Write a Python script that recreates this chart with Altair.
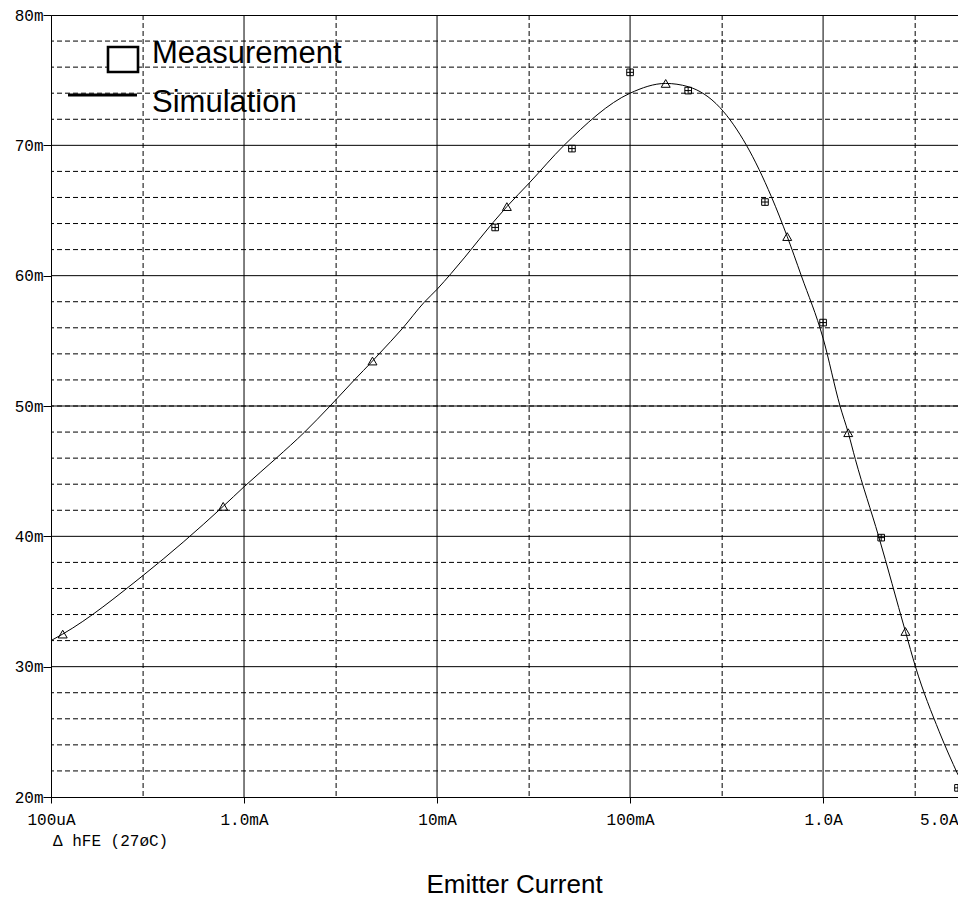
import altair as alt
import pandas as pd

# ---- data ----
# simulation trace (hFE in "m" units vs emitter current in A)
sim_current = [1e-4, 1.15e-4, 3e-4, 7.8e-4, 1e-3, 1.47e-3, 2.06e-3, 2.79e-3, 3.73e-3, 4.63e-3,
               5.01e-3, 6.62e-3, 8.57e-3, 1e-2, 1.18e-2, 2.3e-2, 3e-2, 4.55e-2, 0.1, 0.153,
               0.2, 0.292, 0.401, 0.54, 0.652, 0.771, 1.0, 1.224, 1.35, 1.47,
               1.94, 2.67, 3.01, 4.0, 5.0]
sim_hfe = [32.0, 32.5, 37.0, 42.3, 43.8, 46.0, 48.0, 50.0, 52.0, 53.45,
           54.0, 55.95, 57.95, 58.95, 60.15, 65.3, 67.1, 70.0, 74.0, 74.75,
           74.5, 72.9, 70.0, 66.05, 63.0, 60.0, 55.2, 50.0, 47.95, 45.9,
           40.0, 32.7, 30.0, 25.0, 21.7]

# trace markers (triangles) on the simulation curve
marker_current = [1.15e-4, 7.8e-4, 4.63e-3, 2.3e-2, 0.153, 0.652, 1.35, 2.67]
marker_hfe = [32.5, 42.3, 53.45, 65.3, 74.75, 63.0, 47.95, 32.7]

# measurements (boxed-plus squares)
meas_current = [0.02, 0.05, 0.1, 0.2, 0.5, 1.0, 2.0, 5.0]
meas_hfe = [63.7, 69.75, 75.6, 74.2, 65.65, 56.4, 39.9, 20.7]

# axes / grid
x_tick_values = [1e-4, 1e-3, 1e-2, 0.1, 1, 5]
x_tick_labels = ["100uA", "1.0mA", "10mA", "100mA", "1.0A", "5.0A"]
x_grid_major = [1e-3, 1e-2, 0.1, 1]
x_grid_minor = [3e-4, 3e-3, 3e-2, 0.3, 3]
y_tick_values = [20, 30, 40, 50, 60, 70, 80]
y_grid_major = [30, 40, 50, 60, 70]
y_grid_minor = [22, 24, 26, 28, 32, 34, 36, 38, 42, 44, 46, 48, 50, 52, 54, 56, 58,
                62, 64, 66, 68, 72, 74, 76, 78]

legend_labels = ["Measurement", "Simulation"]
trace_label = "\u0394 hFE (27\u00f8C)"
x_title = "Emitter Current"

# ---- tables ----
sim_df = pd.DataFrame({"I": sim_current, "hfe": sim_hfe})
mark_df = pd.DataFrame({"I": marker_current, "hfe": marker_hfe})
meas_df = pd.DataFrame({"I": meas_current, "hfe": meas_hfe})
vmaj_df = pd.DataFrame({"I": x_grid_major})
vmin_df = pd.DataFrame({"I": x_grid_minor})
hmaj_df = pd.DataFrame({"hfe": y_grid_major})
hmin_df = pd.DataFrame({"hfe": y_grid_minor})
one_df = pd.DataFrame({"k": [0]})

W, H = 907, 782
xs = alt.Scale(type="log", domain=[1e-4, 5], nice=False)
ys = alt.Scale(domain=[20, 80], nice=False, zero=False)

vals_js = "[" + ",".join(repr(v) for v in x_tick_values) + "]"
labs_js = "[" + ",".join("'" + s + "'" for s in x_tick_labels) + "]"

x_axis = alt.Axis(
    values=x_tick_values,
    labelExpr=f"{labs_js}[indexof({vals_js}, datum.value)]",
    labelFont="Liberation Mono", labelFontSize=16, labelColor="black",
    labelPadding=8, tickSize=6, tickColor="black", grid=False,
    domainColor="black", labelOverlap=False, labelFlush=False,
    labelAlign={"condition": {"test": "datum.value == 5", "value": "right"}, "value": "center"},
    title=x_title, titleFont="Liberation Sans", titleFontSize=26,
    titleFontWeight="normal", titleColor="black",
    titleX=463, titleY=95, titleBaseline="alphabetic", titleAlign="center",
)
y_axis = alt.Axis(
    values=y_tick_values, labelExpr="datum.value + 'm'",
    labelFont="Liberation Mono", labelFontSize=16, labelColor="black",
    labelPadding=0, tickSize=8, tickColor="black", grid=False,
    domainColor="black", title=None,
)

X = alt.X("I:Q", scale=xs, axis=x_axis, title=x_title)
Y = alt.Y("hfe:Q", scale=ys, axis=y_axis, title=None)

vmin = alt.Chart(vmin_df).mark_rule(color="black", strokeWidth=1, strokeDash=[5, 3]).encode(x=X)
vmaj = alt.Chart(vmaj_df).mark_rule(color="black", strokeWidth=1).encode(x=X)
hmin = alt.Chart(hmin_df).mark_rule(color="black", strokeWidth=1, strokeDash=[5, 3]).encode(y=Y)
hmaj = alt.Chart(hmaj_df).mark_rule(color="black", strokeWidth=1).encode(y=Y)

line = alt.Chart(sim_df).mark_line(color="black", strokeWidth=1, interpolate="monotone").encode(
    x=X, y=Y)

tri = alt.Chart(mark_df).mark_point(shape="triangle-up", size=80, filled=False,
                                    color="black", strokeWidth=1, opacity=1).encode(x=X, y=Y)

box_plus = "M-1,-1H1V1H-1Z M0,-1V1 M-1,0H1"
meas = alt.Chart(meas_df).mark_point(shape=box_plus, size=44, filled=False,
                                     color="black", strokeWidth=1, opacity=1).encode(x=X, y=Y)

leg_box = alt.Chart(one_df).mark_rect(fill="white", stroke="black", strokeWidth=2.6).encode(
    x=alt.value(57), x2=alt.value(87), y=alt.value(32), y2=alt.value(57))
leg_line = alt.Chart(one_df).mark_rule(color="black", strokeWidth=3).encode(
    x=alt.value(17), x2=alt.value(86), y=alt.value(80))
leg_t1 = alt.Chart(one_df).mark_text(font="Liberation Sans", fontSize=31, align="left",
                                     baseline="alphabetic", color="black").encode(
    x=alt.value(101), y=alt.value(48), text=alt.value(legend_labels[0]))
leg_t2 = alt.Chart(one_df).mark_text(font="Liberation Sans", fontSize=31, align="left",
                                     baseline="alphabetic", color="black").encode(
    x=alt.value(101), y=alt.value(96.5), text=alt.value(legend_labels[1]))
trace_t = alt.Chart(one_df).mark_text(font="Liberation Mono", fontSize=16, align="left",
                                      baseline="alphabetic", color="black").encode(
    x=alt.value(2), y=alt.value(831), text=alt.value(trace_label))

chart = alt.layer(
    vmin, vmaj, hmin, hmaj, line, tri, meas, leg_box, leg_line, leg_t1, leg_t2, trace_t
).properties(
    width=W, height=H,
    autosize=alt.AutoSizeParams(type="none"),
    padding={"left": 43, "top": 7, "right": 0, "bottom": 102},
).configure_view(stroke="black", strokeWidth=1)

chart.save("out.html", embed_options={"renderer": "svg", "actions": False})
